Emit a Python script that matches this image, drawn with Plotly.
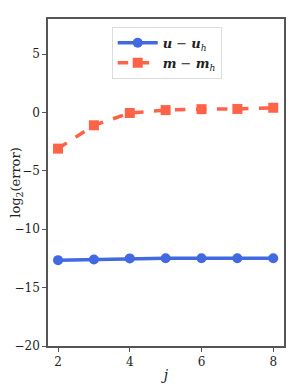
import plotly.graph_objects as go

j = [2, 3, 4, 5, 6, 7, 8]
err_u = [-12.65, -12.6, -12.5, -12.48, -12.48, -12.48, -12.48]
err_m = [-3.1, -1.1, -0.05, 0.2, 0.28, 0.3, 0.4]
ytick_vals = [-20, -15, -10, -5, 0, 5]
ytick_text = ["−20", "−15", "−10", "−5", "0", "5"]
xtick_vals = [2, 4, 6, 8]

FONT = "DejaVu Serif"

fig = go.Figure()
fig.add_trace(go.Scatter(
    x=j, y=err_u, mode="lines+markers",
    name="<b><i>u</i></b> − <b><i>u</i></b><sub><i>h</i></sub>",
    line=dict(color="#4169E1", width=3.5),
    marker=dict(symbol="circle", size=10, color="#4169E1"),
))
fig.add_trace(go.Scatter(
    x=j, y=err_m, mode="lines+markers",
    name="<b><i>m</i></b> − <b><i>m</i></b><sub><i>h</i></sub>",
    line=dict(color="#FF6347", width=3.5, dash="dash"),
    marker=dict(symbol="square", size=10, color="#FF6347"),
))

tick_font = dict(family=FONT, size=12, color="#222222")
axis_common = dict(
    showgrid=False, zeroline=False, showline=True, linecolor="#555555", linewidth=1.5,
    mirror=True, ticks="outside", ticklen=4, tickcolor="#555555",
    tickfont=tick_font, automargin=False,
)
fig.update_xaxes(range=[1.72, 8.3], tickvals=xtick_vals,
                 title=dict(text="<i>j</i>", font=dict(family=FONT, size=14, color="#222222"), standoff=2),
                 **axis_common)
fig.update_yaxes(range=[-20, 8], tickvals=ytick_vals, ticktext=ytick_text,
                 title=dict(text="log<sub>2</sub>(error)", font=dict(family=FONT, size=13, color="#222222"), standoff=2),
                 **axis_common)

fig.update_layout(
    width=291, height=381,
    margin=dict(l=40, r=15, t=11, b=43),
    plot_bgcolor="white", paper_bgcolor="white",
    font=dict(family=FONT, size=12, color="#222222"),
    legend=dict(x=0.27, y=0.976, xanchor="left", yanchor="top",
                bgcolor="white", bordercolor="#dddddd", borderwidth=1,
                font=dict(family=FONT, size=13), itemwidth=40),
    showlegend=True,
)

fig.write_html("out.html")
